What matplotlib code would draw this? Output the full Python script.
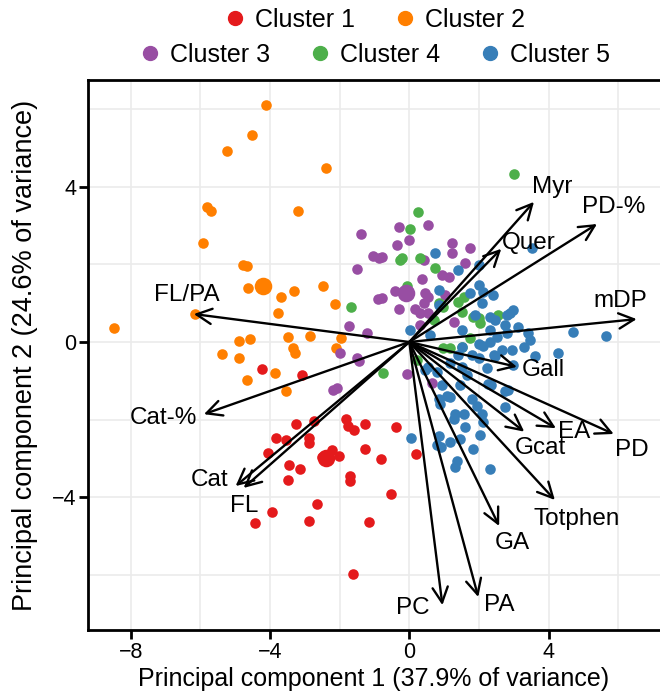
import matplotlib
matplotlib.use('Agg')
import matplotlib.pyplot as plt
from matplotlib.lines import Line2D
import numpy as np

plt.rcParams['font.family'] = ['Liberation Sans', 'DejaVu Sans']

# scores per cluster (PC1, PC2)
c1_pc1 = [-4.22, -3.07, -3.25, -2.74, -1.81, -1.76, -1.58, -1.26, -0.37, -3.84, -3.55, -2.89,
          -2.87, -4.05, -2.23, -2.50, -2.01, -1.26, -0.80, -3.46, -3.15, -3.49, -1.71, -1.71,
          -0.52, -2.65, -3.95, -4.44, -2.89, -1.15, -1.62, 0.19]
c1_pc2 = [-0.70, -0.85, -2.10, -2.04, -1.99, -2.16, -2.27, -2.10, -2.18, -2.47, -2.53, -2.47,
          -2.61, -2.87, -2.78, -2.97, -2.93, -2.76, -3.02, -3.18, -3.28, -3.56, -3.45, -3.57,
          -3.92, -4.18, -4.39, -4.66, -4.60, -4.65, -5.99, -2.89]

c2_pc1 = [-4.12, -4.52, -5.23, -2.39, -5.82, -5.70, -3.20, -5.92, -4.78, -4.67, -4.63, -3.70,
          -3.31, -2.49, -2.13, -3.77, -6.16, -8.47, -4.89, -4.58, -3.49, -2.84, -1.95, -2.12,
          -5.38, -4.89, -3.35, -3.27, -3.86, -4.65, -3.55]
c2_pc2 = [6.10, 5.34, 4.92, 4.48, 3.49, 3.38, 3.37, 2.54, 1.98, 1.96, 1.38, 1.17,
          1.31, 1.43, 0.97, 0.74, 0.72, 0.35, 0.03, 0.07, 0.13, 0.15, 0.10, -0.15,
          -0.31, -0.40, -0.16, -0.28, -0.81, -0.98, -1.26]

c3_pc1 = [-1.38, -1.04, -0.88, -1.50, -0.90, -1.74, -1.21, -1.98, -1.50, -1.45, -2.19, -2.07,
          -0.07, 0.65, -0.31, 0.55, -0.02, -0.35, 1.22, 1.75, 1.22, -0.78, 0.41, 1.60,
          0.94, 1.13, 0.36, -0.40, 0.44, 0.55, -0.78, 1.03, -0.31, 0.17, 0.32, 0.55,
          1.27, 0.32, 0.41]
c3_pc2 = [2.78, 2.22, 2.16, 1.89, 1.10, 0.42, 0.22, -0.29, -0.42, -0.48, -1.24, -1.19,
          -0.82, -1.05, 2.97, 3.02, 2.63, 2.50, 2.56, 2.41, 2.29, 2.18, 2.11, 2.04,
          1.73, 1.68, 1.62, 1.32, 1.25, 1.17, 1.13, 1.21, 0.85, 0.85, 0.74, 0.74,
          0.52, 0.44, 1.00]

c4_pc1 = [3.01, 0.24, 0.01, -0.26, -0.21, 0.32, 0.74, -0.07, 0.84, 0.98, 1.41, 1.56,
          1.51, 1.84, 1.99, 2.56, 0.70, 1.75, 0.98, 1.17, 1.51, 0.22, -0.76, -1.67, 2.03]
c4_pc2 = [4.32, 3.34, 2.90, 2.11, 2.16, 2.16, 1.90, 1.43, 1.00, 0.91, 1.04, 1.17,
          0.78, 0.65, 0.61, 0.70, 0.57, 0.10, -0.16, -0.16, -0.14, -0.46, -0.81, 0.91, 0.48]

c5_pc1 = [3.53, 0.74, 1.41, 1.99, 1.99, 2.13, 2.40, 0.84, 1.75, 2.08, 0.84, 1.89,
          2.32, 2.99, 2.89, 2.80, 2.46, 3.13, 2.75, 0.03, 0.60, 1.51, 2.32, 2.51,
          2.80, 3.42, 4.71, 5.64, 3.47, 2.32, 2.66, 2.94, 3.28, 1.51, 1.41, 1.99,
          2.13, 4.28, 2.42, 2.99, 2.46, 3.61, 1.80, 1.99, 0.55, 0.79, 1.65, 2.27,
          0.94, 1.46, 2.75, 2.83, 2.35, 1.08, 1.17, 0.84, 0.89, 1.80, 1.94, 2.75,
          1.32, 1.56, 1.27, 2.08, 2.13, 1.60, 0.06, 0.84, 0.79, 0.92, 1.17, 1.46,
          2.03, 1.84, 1.37, 1.32, 2.32, 1.51, 2.23, 1.17, 0.46]
c5_pc2 = [2.41, 2.29, 1.86, 1.98, 1.47, 1.30, 1.21, 1.34, 1.25, 1.00, 0.95, 0.70,
          0.65, 0.82, 0.74, 0.70, 0.57, 0.39, 0.44, 0.32, 0.18, 0.31, 0.31, 0.14,
          0.22, 0.22, 0.27, 0.16, 0.05, 0.01, -0.21, -0.21, -0.12, -0.12, -0.34, -0.05,
          -0.10, -0.29, -0.33, -0.59, -0.37, -0.37, -0.33, -0.42, -0.65, -0.78, -0.86, -1.07,
          -1.12, -1.12, -1.25, -1.24, -1.11, -1.38, -1.42, -1.47, -1.60, -1.47, -1.64, -1.68,
          -1.86, -1.86, -1.99, -1.86, -2.07, -2.20, -2.48, -2.41, -2.65, -2.71, -2.58, -2.50,
          -2.40, -2.76, -3.06, -3.23, -3.27, -0.64, -0.68, -0.55, -0.72]

# cluster centres (drawn larger)
cent_pc1 = [-2.39, -4.21, -0.09]
cent_pc2 = [-3.00, 1.43, 1.26]
cent_cluster = [0, 1, 2]

cluster_names = ['Cluster 1', 'Cluster 2', 'Cluster 3', 'Cluster 4', 'Cluster 5']
colors = ['#E41A1C', '#FF7F00', '#984EA3', '#4DAF4A', '#377EB8']

# loadings (arrow tips)
var_names = ['Myr', 'PD-%', 'Quer', 'mDP', 'Gall', 'EA', 'PD', 'Gcat', 'Totphen', 'GA',
             'PA', 'PC', 'Cat-%', 'Cat', 'FL', 'FL/PA']
load_pc1 = [3.58, 5.39, 2.64, 6.53, 3.09, 4.21, 5.87, 3.30, 4.18, 2.58,
            1.98, 0.95, -5.90, -4.99, -4.76, -6.19]
load_pc2 = [3.61, 3.04, 2.40, 0.59, -0.64, -2.22, -2.37, -2.31, -4.07, -4.74,
            -6.57, -6.78, -1.86, -3.71, -3.76, 0.72]
# where each variable name sits
label_x = [4.10, 5.87, 3.44, 6.07, 3.84, 4.73, 6.39, 3.75, 4.81, 2.95,
           2.58, 0.09, -7.05, -5.73, -4.73, -6.39]
label_y = [4.00, 3.48, 2.55, 1.06, -0.72, -2.32, -2.78, -2.73, -4.56, -5.18,
           -6.78, -6.86, -1.96, -3.56, -4.23, 1.21]

fig = plt.figure(figsize=(6.6, 6.97), dpi=100)
ax = fig.add_axes([88 / 660, 1 - 630 / 697, 1 - 88 / 660, (630 - 80) / 697])

ax.set_xlim(-9.23, 7.2)
ax.set_ylim(-7.42, 6.75)

ax.set_xticks([-8, -4, 0, 4])
ax.set_yticks([-4, 0, 4])
ax.set_xticks([-6, -2, 2, 6], minor=True)
ax.set_yticks([-6, -2, 2, 6], minor=True)
ax.grid(which='major', color='#EBEBEB', lw=1.2)
ax.grid(which='minor', color='#EBEBEB', lw=1.2)
ax.set_axisbelow(True)
ax.tick_params(which='major', direction='out', length=6.5, width=2, labelsize=15.5,
               colors='black', pad=2)
ax.tick_params(which='minor', length=0)
for s in ['left', 'bottom', 'top']:
    ax.spines[s].set_linewidth(2)
ax.spines['right'].set_visible(False)

series = [(c1_pc1, c1_pc2), (c2_pc1, c2_pc2), (c3_pc1, c3_pc2), (c4_pc1, c4_pc2), (c5_pc1, c5_pc2)]
for i, (xs, ys) in enumerate(series):
    ax.scatter(xs, ys, s=58, color=colors[i], linewidths=0, zorder=2)
for x, y, c in zip(cent_pc1, cent_pc2, cent_cluster):
    ax.scatter([x], [y], s=160, color=colors[c], linewidths=0, zorder=2)

for name, lx, ly, tx, ty in zip(var_names, load_pc1, load_pc2, label_x, label_y):
    ax.annotate('', xy=(lx, ly), xytext=(0, 0),
                arrowprops=dict(arrowstyle='->,head_length=0.5,head_width=0.25',
                                lw=1.7, color='black', mutation_scale=22,
                                shrinkA=0, shrinkB=0), zorder=3)
    ax.text(tx, ty, name, fontsize=17.5, ha='center', va='center', zorder=4)

ax.set_xlabel('Principal component 1 (37.9% of variance)', fontsize=18, labelpad=3)
ax.set_ylabel('Principal component 2 (24.6% of variance)', fontsize=19.5, labelpad=10)

handles = [Line2D([], [], marker='o', ls='', color=c, markersize=10) for c in colors]
leg1 = fig.legend(handles[:2], cluster_names[:2], ncol=2, loc='center',
                  bbox_to_anchor=(375 / 660, 1 - 20 / 697), frameon=False, fontsize=18,
                  handlelength=0.8, handletextpad=0.4, columnspacing=1.6, borderpad=0)
leg2 = fig.legend(handles[2:], cluster_names[2:], ncol=3, loc='center',
                  bbox_to_anchor=(375 / 660, 1 - 55 / 697), frameon=False, fontsize=18,
                  handlelength=0.8, handletextpad=0.4, columnspacing=1.6, borderpad=0)

plt.savefig('out.png', dpi=100)
